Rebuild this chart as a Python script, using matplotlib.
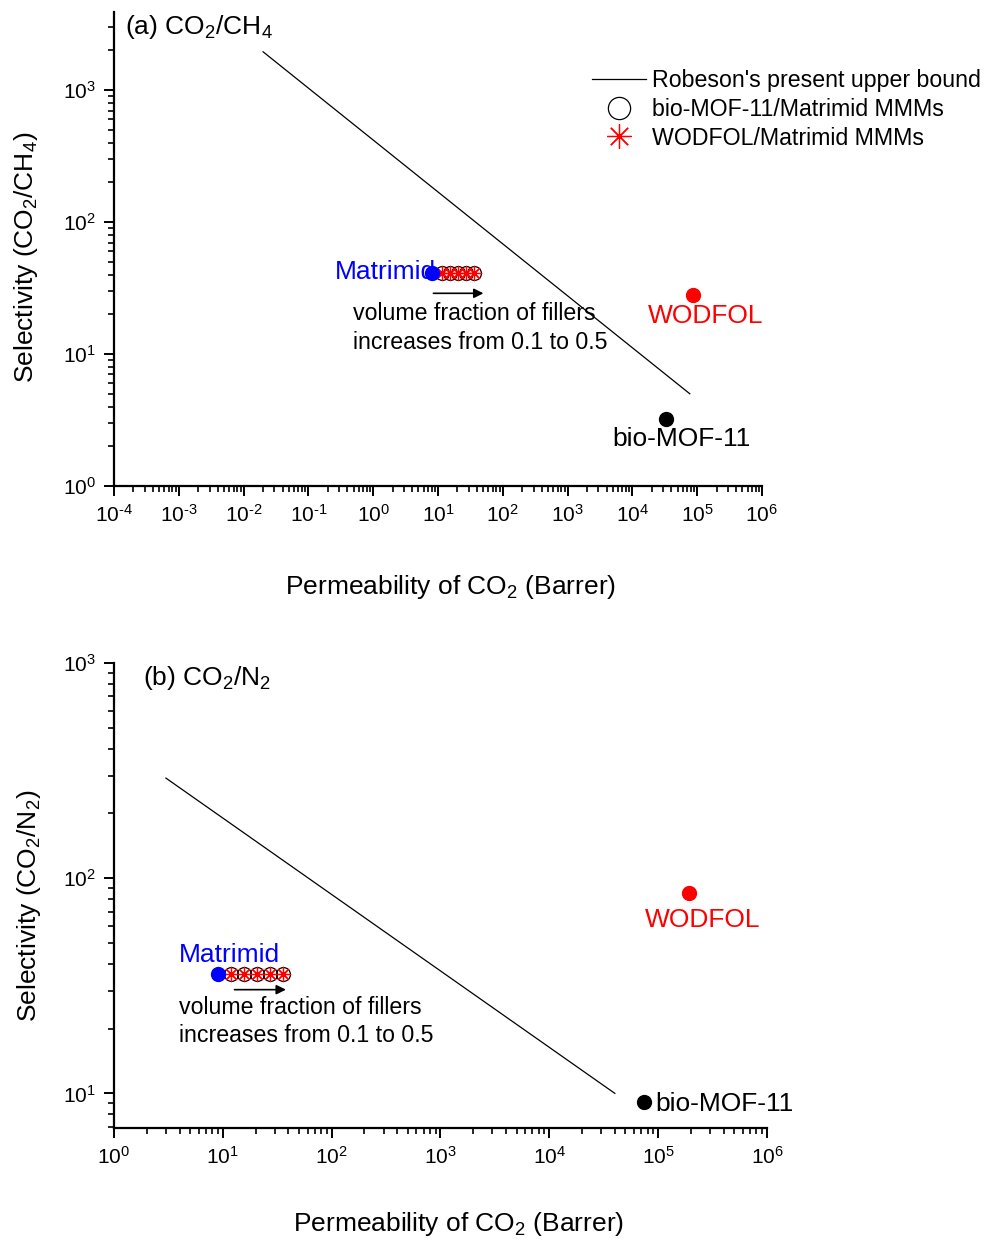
import matplotlib
matplotlib.use("Agg")
import matplotlib.pyplot as plt
from matplotlib.ticker import LogLocator, NullFormatter, FuncFormatter
from matplotlib.transforms import offset_copy
import numpy as np

plt.rcParams['font.family'] = ['Liberation Sans', 'DejaVu Sans']
plt.rcParams['mathtext.fontset'] = 'custom'
plt.rcParams['mathtext.rm'] = 'Liberation Sans'
plt.rcParams['mathtext.it'] = 'Liberation Sans:italic'
plt.rcParams['mathtext.bf'] = 'Liberation Sans:bold'

# ---------------- data ----------------
# (a) CO2/CH4
robeson_ch4_perm = [0.02, 7.7e4]
robeson_ch4_sel = [1950, 5.0]
matrimid_ch4_perm = [8.1]
matrimid_ch4_sel = [41]
mmm_ch4_perm = [11.5, 15.3, 20.4, 27.2, 36.0]
mmm_ch4_sel = [41, 41, 41, 41, 41]
wodfol_ch4_perm = [8.6e4]
wodfol_ch4_sel = [28]
biomof_ch4_perm = [3.3e4]
biomof_ch4_sel = [3.2]

# (b) CO2/N2
robeson_n2_perm = [3.0, 4.0e4]
robeson_n2_sel = [292, 10.0]
matrimid_n2_perm = [9.0]
matrimid_n2_sel = [36]
mmm_n2_perm = [12.0, 15.7, 20.7, 27.3, 35.9]
mmm_n2_sel = [36, 36, 36, 36, 36]
wodfol_n2_perm = [1.9e5]
wodfol_n2_sel = [85]
biomof_n2_perm = [7.4e4]
biomof_n2_sel = [9.1]

fig = plt.figure(figsize=(9.92, 12.44), dpi=100)
ax1 = fig.add_axes([0.1149, 0.6093, 0.6532, 0.3810])
ax2 = fig.add_axes([0.1149, 0.0932, 0.6583, 0.3738])

FS_TICK = 15
FS_LAB = 19
FS_TXT = 16.7


def fmt(v, pos):
    e = int(round(np.log10(v)))
    if e < 0:
        return r'$10^{\text{-}%d}$' % (-e)
    return r'$10^{%d}$' % e


def style(ax):
    ax.set_xscale('log')
    ax.set_yscale('log')
    for s in ['top', 'right']:
        ax.spines[s].set_visible(False)
    for s in ['left', 'bottom']:
        ax.spines[s].set_linewidth(1.6)
    ax.xaxis.set_major_locator(LogLocator(base=10, numticks=20))
    ax.xaxis.set_minor_locator(LogLocator(base=10, subs=range(2, 10), numticks=200))
    ax.yaxis.set_major_locator(LogLocator(base=10, numticks=20))
    ax.yaxis.set_minor_locator(LogLocator(base=10, subs=range(2, 10), numticks=200))
    ax.xaxis.set_major_formatter(FuncFormatter(fmt))
    ax.yaxis.set_major_formatter(FuncFormatter(fmt))
    ax.xaxis.set_minor_formatter(NullFormatter())
    ax.yaxis.set_minor_formatter(NullFormatter())
    ax.tick_params(which='major', direction='out', length=7, width=1.4, labelsize=FS_TICK, pad=6)
    ax.tick_params(which='minor', direction='out', length=4, width=1.2)


MS = 10
STAR = (8, 2, 0)

for ax, rp, rs, mp, ms_, xp, xs, wp, ws, bp, bs in [
    (ax1, robeson_ch4_perm, robeson_ch4_sel, matrimid_ch4_perm, matrimid_ch4_sel,
     mmm_ch4_perm, mmm_ch4_sel, wodfol_ch4_perm, wodfol_ch4_sel, biomof_ch4_perm, biomof_ch4_sel),
    (ax2, robeson_n2_perm, robeson_n2_sel, matrimid_n2_perm, matrimid_n2_sel,
     mmm_n2_perm, mmm_n2_sel, wodfol_n2_perm, wodfol_n2_sel, biomof_n2_perm, biomof_n2_sel),
]:
    style(ax)
    ax.plot(rp, rs, color='black', lw=0.9, label="Robeson's present upper bound")
    ax.plot(xp, xs, ls='none', marker='o', mfc='none', mec='black', ms=MS, mew=0.9,
            label='bio-MOF-11/Matrimid MMMs')
    ax.plot(xp, xs, ls='none', marker=STAR, color='red', ms=MS + 1, mew=0.9,
            label='WODFOL/Matrimid MMMs')
    ax.plot(mp, ms_, ls='none', marker='o', color='blue', ms=MS)
    ax.plot(wp, ws, ls='none', marker='o', color='red', ms=MS)
    ax.plot(bp, bs, ls='none', marker='o', color='black', ms=MS)

# ----- panel (a)
ax1.set_xlim(1e-4, 1e6)
ax1.set_ylim(1, 3900)
ax1.set_xlabel('Permeability of CO$_2$ (Barrer)', fontsize=FS_LAB)
ax1.xaxis.set_label_coords(0.52, -0.183)
ax1.set_ylabel('Selectivity (CO$_2$/CH$_4$)', fontsize=FS_LAB)
ax1.yaxis.set_label_coords(-0.114, 0.483)
ax1.text(0.017, 0.997, '(a) CO$_2$/CH$_4$', transform=ax1.transAxes, fontsize=FS_LAB,
         ha='left', va='top')
ax1.annotate('Matrimid', xy=(matrimid_ch4_perm[0], matrimid_ch4_sel[0]), xytext=(3, 1),
             textcoords='offset points', ha='right', va='center', color='blue', fontsize=FS_LAB)
ax1.annotate('volume fraction of fillers\nincreases from 0.1 to 0.5',
             xy=(matrimid_ch4_perm[0], matrimid_ch4_sel[0]), xytext=(-57, -21),
             textcoords='offset points', ha='left', va='top', fontsize=FS_TXT, linespacing=1.3)
ax1.annotate('WODFOL', xy=(wodfol_ch4_perm[0], wodfol_ch4_sel[0]), xytext=(9, -15),
             textcoords='offset points', ha='center', va='center', color='red', fontsize=FS_LAB)
ax1.annotate('bio-MOF-11', xy=(biomof_ch4_perm[0], biomof_ch4_sel[0]), xytext=(11, -14),
             textcoords='offset points', ha='center', va='center', color='black', fontsize=FS_LAB)

# ----- panel (b)
ax2.set_xlim(1, 1e6)
ax2.set_ylim(6.9, 1000)
ax2.set_xlabel('Permeability of CO$_2$ (Barrer)', fontsize=FS_LAB)
ax2.xaxis.set_label_coords(0.528, -0.177)
ax2.set_ylabel('Selectivity (CO$_2$/N$_2$)', fontsize=FS_LAB)
ax2.yaxis.set_label_coords(-0.109, 0.477)
ax2.text(0.045, 0.997, '(b) CO$_2$/N$_2$', transform=ax2.transAxes, fontsize=FS_LAB,
         ha='left', va='top')
ax2.annotate('Matrimid', xy=(matrimid_n2_perm[0], matrimid_n2_sel[0]), xytext=(-28, 13.5),
             textcoords='offset points', ha='left', va='center', color='blue', fontsize=FS_LAB)
ax2.annotate('volume fraction of fillers\nincreases from 0.1 to 0.5',
             xy=(matrimid_n2_perm[0], matrimid_n2_sel[0]), xytext=(-28, -16),
             textcoords='offset points', ha='left', va='top', fontsize=FS_TXT, linespacing=1.3)
ax2.annotate('WODFOL', xy=(wodfol_n2_perm[0], wodfol_n2_sel[0]), xytext=(10, -19),
             textcoords='offset points', ha='center', va='center', color='red', fontsize=FS_LAB)
ax2.annotate('bio-MOF-11', xy=(biomof_n2_perm[0], biomof_n2_sel[0]), xytext=(8, -1),
             textcoords='offset points', ha='left', va='center', color='black', fontsize=FS_LAB)


# arrows (offset from Matrimid point)
def arrow(ax, x0, y0, dx_from, dx_to, dy):
    t_from = offset_copy(ax.transData, fig=fig, x=dx_from, y=dy, units='points')
    t_to = offset_copy(ax.transData, fig=fig, x=dx_to, y=dy, units='points')
    ax.annotate('', xy=(x0, y0), xycoords=t_to, xytext=(x0, y0), textcoords=t_from,
                arrowprops=dict(arrowstyle='-|>', color='black', lw=1.2, mutation_scale=14,
                                shrinkA=0, shrinkB=0))


arrow(ax1, matrimid_ch4_perm[0], matrimid_ch4_sel[0], 1, 37, -14.5)
arrow(ax2, matrimid_n2_perm[0], matrimid_n2_sel[0], 12, 49, -11.5)

# legend
handles, labels = ax1.get_legend_handles_labels()
fig.legend(handles[:3], labels[:3], loc='upper right', bbox_to_anchor=(0.998, 0.952),
           frameon=False, fontsize=FS_TXT, handlelength=2.3, handletextpad=0.26,
           labelspacing=0.25, borderaxespad=0, markerscale=1.6)

fig.savefig('out.png', dpi=100)
